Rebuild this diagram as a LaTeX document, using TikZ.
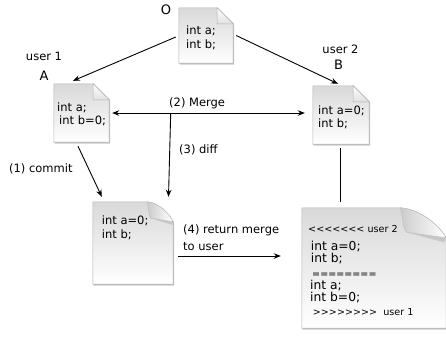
\documentclass[tikz,border=0pt]{standalone}
\usepackage{fontspec}
\setmainfont{DejaVu Sans}
\usetikzlibrary{arrows.meta,calc,shadows}

\tikzset{
  x=1pt, y=-1pt,
  docbox/.style={draw=none, inner sep=0pt},
  pagestyle/.style={top color=black!15, bottom color=white, draw=black!30, line width=0.6pt,
    drop shadow={opacity=0.35, shadow xshift=0.8pt, shadow yshift=-1.3pt, fill=black!60}},
  earstyle/.style={top color=white, bottom color=black!12, draw=black!30, line width=0.5pt},
  flapstyle/.style={left color=black!20, right color=white, draw=black!25, line width=0.5pt},
  lbl/.style={inner sep=0pt, font=\fontsize{11.5}{13}\selectfont},
  biglbl/.style={inner sep=0pt, font=\fontsize{13}{15}\selectfont},
  doctext/.style={inner sep=0pt, anchor=base west, font=\fontsize{11.5}{13}\selectfont},
  dtext/.style={inner sep=0pt, anchor=base west, font=\fontsize{12.3}{13}\selectfont},
  smalltext/.style={inner sep=0pt, anchor=base west, font=\fontsize{9.6}{11}\selectfont},
  arr/.style={-{Stealth[length=7pt,width=5.5pt]}, line width=0.9pt},
  plainline/.style={line width=1pt},
}

\newcommand\earpage[2]{%
  \path[pagestyle] (#1.south west) -- (#1.north west) -- ([xshift=-#2pt]#1.north east)
     -- ([yshift=-#2pt]#1.north east) -- (#1.south east) -- cycle;
  \path[earstyle] ([xshift=-#2pt]#1.north east) -- ([xshift=-#2pt,yshift=-#2pt]#1.north east)
     -- ([yshift=-#2pt]#1.north east) -- cycle;
}

\newcommand\curlpage[3]{%
  \coordinate (#1-ne) at (#1.north east);
  \path[pagestyle] (#1.south west) -- (#1.north west) -- ([xshift=-#2pt]#1-ne)
     .. controls ([xshift={-0.55*#2pt}, yshift={-0.05*#3pt}]#1-ne) and ([xshift={-0.15*#2pt},yshift={-0.6*#3pt}]#1-ne)
     .. ([yshift=-#3pt]#1-ne) -- (#1.south east) -- cycle;
  \fill[black!22] ([xshift={-0.85*#2pt},yshift={-0.82*#3pt}]#1-ne) -- ([yshift=-#3pt]#1-ne)
     -- ([xshift={-0.05*#2pt},yshift={-1.15*#3pt}]#1-ne) -- cycle;
  \path[flapstyle] ([xshift=-#2pt]#1-ne)
     .. controls ([xshift={-0.93*#2pt},yshift={-0.25*#3pt}]#1-ne) and ([xshift={-0.98*#2pt},yshift={-0.62*#3pt}]#1-ne)
     .. ([xshift={-0.85*#2pt},yshift={-0.82*#3pt}]#1-ne) -- ([yshift=-#3pt]#1-ne)
     .. controls ([xshift={-0.15*#2pt},yshift={-0.6*#3pt}]#1-ne) and ([xshift={-0.55*#2pt}, yshift={-0.05*#3pt}]#1-ne)
     .. cycle;
}

\begin{document}
\begin{tikzpicture}
\useasboundingbox (0,0) rectangle (446,338);

% document boxes
\node[docbox, minimum width=54pt, minimum height=55pt] (O) at (206,35.5) {};
\node[docbox, minimum width=55pt, minimum height=58pt] (A) at (81.5,113) {};
\node[docbox, minimum width=56pt, minimum height=58pt] (B) at (341,115) {};
\node[docbox, minimum width=80pt, minimum height=82pt] (C) at (133,243) {};
\node[docbox, minimum width=144pt, minimum height=120pt] (D) at (374,268) {};

\earpage{O}{16}
\earpage{A}{16}
\earpage{B}{16}
\curlpage{C}{26}{20}
\curlpage{D}{46}{30}

% texts in documents
\node[doctext] (Ot1) at (186,34) {int a;};
\node[doctext] (Ot2) at (186,48) {int b;};
\node[doctext] (At1) at (57,111.7) {int a;};
\node[doctext] (At2) at (59,124.5) {int b=0;};
\node[doctext] (Bt1) at (318,114) {int a=0;};
\node[doctext] (Bt2) at (318,127.5) {int b;};
\node[doctext] (Ct1) at (101.7,224.5) {int a=0;};
\node[doctext] (Ct2) at (101.7,238.5) {int b;};
\node[smalltext] (Dt1) at (308,232.3) {<{}<{}<{}<{}<{}<{}< user 2};
\node[dtext] (Dt2) at (310.7,250) {int a=0;};
\node[dtext] (Dt3) at (310.7,262) {int b;};
\node[smalltext] (Dt4) at (312,277) {========};
\node[dtext] (Dt5) at (310,289) {int a;};
\node[dtext] (Dt6) at (310,301) {int b=0;};
\node[smalltext] (Dt7) at (312.7,315.7) {>{}>{}>{}>{}>{}>{}>{}>\ \ user 1};

% labels
\node[biglbl] (Olab) at (166,10) {O};
\node[lbl] (ulab1) at (44,56) {user 1};
\node[biglbl] (Alab) at (44,76) {A};
\node[lbl] (ulab2) at (340.5,49) {user 2};
\node[biglbl] (Blab) at (338.5,64.5) {B};
\node[lbl, anchor=base west] (mergelab) at (169,106) {(2) Merge};
\node[lbl, anchor=base west] (difflab) at (179,153) {(3) diff};
\node[lbl, anchor=base west] (commitlab) at (9,172) {(1) commit};
\node[lbl, anchor=base west] (retlab1) at (183,233) {(4) return merge};
\node[lbl, anchor=base west] (retlab2) at (183,250) {to user};

% connectors
\coordinate (M) at (170.7,113);
\draw[arr] ([xshift=-3pt,yshift=-1.5pt]O.west) -- ([xshift=-8.5pt,yshift=3pt]A.north);
\draw[arr] ([xshift=3pt]O.east) -- ([xshift=-3pt,yshift=2pt]B.north);
\draw[arr] (M) -- ([xshift=3pt]A.east);
\draw[arr] (M) -- ([xshift=-8pt,yshift=2pt]B.west);
\draw[arr] (M) -- ([xshift=-4.7pt,yshift=5pt]C.north east);
\draw[arr] ([xshift=-3.5pt,yshift=-4pt]A.south) -- ([xshift=9pt,yshift=5pt]C.north west);
\draw[arr] ([xshift=5pt,yshift=-13pt]C.east) -- ([xshift=-21pt,yshift=12pt]D.west);
\draw[plainline] ([xshift=-1pt,yshift=-4pt]B.south) -- ([xshift=-34pt,yshift=6pt]D.north);
\end{tikzpicture}
\end{document}
